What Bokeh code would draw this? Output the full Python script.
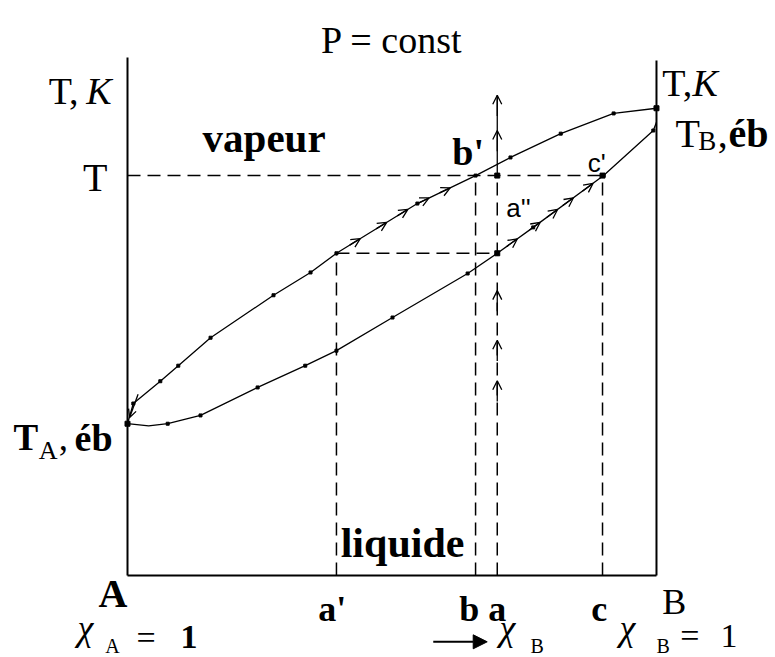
import numpy as np
from bokeh.plotting import figure
from bokeh.models import Range1d, Label, Arrow, OpenHead, NormalHead, ColumnDataSource
from bokeh.embed import file_html
from bokeh.resources import INLINE

# Composition axis: mole fraction of B (A at 0, B at 1); temperature in arbitrary units
T_A = 29.3          # boiling point of pure A
T_B = 90.2          # boiling point of pure B
T_level = 77.2      # temperature T (horizontal tie line)
T_a1 = 62.2         # tie line through a'
left_axis_top = 100.0
right_axis_top = 99.4
a_arrow_top = 92.7

tick_names = ["a'", "b", "a", "c"]
tick_x = [0.395, 0.658, 0.699, 0.898]
x_a1, x_b, x_a, x_c = tick_x

# vapour (dew) curve
vap_x = [0.0, 0.011, 0.062, 0.096, 0.157, 0.276, 0.346, 0.395, 0.548, 0.658, 0.724, 0.819, 0.919, 1.0]
vap_T = [29.3, 33.2, 37.5, 40.5, 45.9, 54.1, 58.5, 62.2, 71.8, 77.2, 80.7, 85.3, 89.2, 90.2]

# liquid (bubble) curve
liq_x = [0.0, 0.040, 0.076, 0.138, 0.246, 0.336, 0.395, 0.501, 0.643, 0.699, 0.767, 0.900, 0.994, 1.0]
liq_T = [29.3, 28.9, 29.3, 30.9, 36.3, 40.5, 43.4, 49.8, 58.3, 62.2, 67.2, 77.2, 85.9, 87.5]

# positions of the direction arrows
vap_arrow_x = [0.44, 0.49, 0.53, 0.57, 0.61]
liq_arrow_x = [0.737, 0.78, 0.813, 0.843, 0.88]
a_arrow_T = [37.6, 45.4, 55.0, 85.9, 92.7]

SERIF = "Liberation Serif"
SANS = "Liberation Sans"

p = figure(width=775, height=657,
           x_range=Range1d(-0.2401, 1.2250), y_range=Range1d(-15.83, 111.0),
           output_backend="svg", toolbar_location=None,
           x_axis_location=None, y_axis_location=None, min_border=0)
p.grid.visible = False
p.outline_line_color = None
p.background_fill_color = "white"
p.border_fill_color = "white"

# frame: left temperature axis, composition axis, right temperature axis
p.line([0, 0], [0, left_axis_top], line_color="black", line_width=2)
p.line([0, 1], [0, 0], line_color="black", line_width=2)
p.line([1, 1], [0, right_axis_top], line_color="black", line_width=2)

# dashed construction lines
dash = dict(line_color="black", line_width=1.5, line_dash="13 7")
p.line([0, x_c], [T_level, T_level], **dash)
p.line([x_a1, x_a], [T_a1, T_a1], **dash)
p.line([x_a1, x_a1], [0, T_a1], **dash)
p.line([x_b, x_b], [0, T_level], **dash)
p.line([x_a, x_a], [0, T_level], **dash)
p.line([x_c, x_c], [0, T_level], **dash)
p.line([x_a, x_a], [T_level, a_arrow_top], line_color="black", line_width=1.3)

# equilibrium curves
p.line(vap_x, vap_T, line_color="black", line_width=1.3)
p.line(liq_x, liq_T, line_color="black", line_width=1.3)
p.scatter(vap_x[1:-1], vap_T[1:-1], marker="square", size=3, color="black")
p.scatter(liq_x[2:-1], liq_T[2:-1], marker="square", size=3, color="black")
p.scatter([0, 1, x_a, x_a, x_c], [T_A, T_B, T_a1, T_level, T_level],
          marker="square", size=5, color="black")


def arrows(x0, y0, x1, y1, size=9):
    src = ColumnDataSource(dict(x0=x0, y0=y0, x1=x1, y1=y1))
    p.add_layout(Arrow(end=OpenHead(size=size, line_width=1.3, line_color="black"),
                       x_start="x0", y_start="y0", x_end="x1", y_end="y1",
                       line_width=1.3, line_color="black", source=src))


dx = 0.02
vx = np.array(vap_arrow_x)
arrows(list(vx - dx), list(np.interp(vx - dx, vap_x, vap_T)), list(vx), list(np.interp(vx, vap_x, vap_T)))
lx = np.array(liq_arrow_x)
arrows(list(lx - dx), list(np.interp(lx - dx, liq_x, liq_T)), list(lx), list(np.interp(lx, liq_x, liq_T)))
at = np.array(a_arrow_T)
arrows([x_a] * len(at), list(at - 4), [x_a] * len(at), list(at))
# arrow running down the vapour curve into T_A
arrows([0.02], [35.0], [0.004], [30.5], size=8)

# composition direction arrow
p.add_layout(Arrow(end=NormalHead(size=14, fill_color="black", line_color="black"),
                   x_start=0.578, y_start=-12.8, x_end=0.68, y_end=-12.8,
                   line_width=2, line_color="black"))


def txt(x, y, s, size, style="normal", font=SERIF, align="left"):
    p.add_layout(Label(x=x, y=y, text=s, text_font=font, text_font_size=f"{size}px",
                       text_font_style=style, text_align=align, text_baseline="alphabetic",
                       text_color="black"))


txt(0.5, 103.3, "P = const", 38, align="center")

# temperature axis titles
txt(-0.149, 93.6, "T,", 38)
txt(-0.078, 93.6, "K", 38, style="italic")
txt(1.011, 95.0, "T,", 38)
txt(1.068, 95.0, "K", 38, style="italic")
txt(-0.038, 76.8, "T", 40, align="right")

# region and point labels
txt(0.142, 84.4, "vapeur", 41, style="bold")
txt(0.403, 6.2, "liquide", 42, style="bold")
txt(0.614, 81.7, "b'", 38, style="bold")
txt(0.716, 71.0, "a''", 26, font=SANS)
txt(0.870, 79.7, "c'", 26, font=SANS)

# boiling points of the pure components
txt(1.036, 85.3, "T", 40)
txt(1.079, 83.8, "B", 27)
txt(1.116, 85.3, ",", 40)
txt(1.136, 85.3, "éb", 40, style="bold")
txt(-0.2155, 26.6, "T", 37, style="bold")
txt(-0.168, 24.1, "A", 26)
txt(-0.130, 26.6, ",", 37)
txt(-0.100, 26.6, "éb", 38, style="bold")

# composition axis labels
txt(0.0, -3.5, "A", 40, style="bold", align="right")
txt(1.011, -5.2, "B", 36)
label_shift = [-0.008, -0.012, 0.0, -0.006]
for name, xv, dxl in zip(tick_names, tick_x, label_shift):
    txt(xv + dxl, -6.4, name, 36, style="bold", align="center")

# composition legends under the axis
txt(-0.0945, -10.2, "χ", 36, style="italic")
txt(-0.042, -13.7, "A", 20)
txt(0.017, -11.9, "=", 34)
txt(0.100, -11.9, "1", 34, style="bold")

txt(0.703, -10.2, "χ", 36, style="italic")
txt(0.762, -13.7, "B", 20)

txt(0.930, -10.2, "χ", 36, style="italic")
txt(1.000, -13.7, "B", 20)
txt(1.045, -11.6, "=", 34)
txt(1.121, -11.6, "1", 34)

open("out.html", "w").write(file_html(p, INLINE))
